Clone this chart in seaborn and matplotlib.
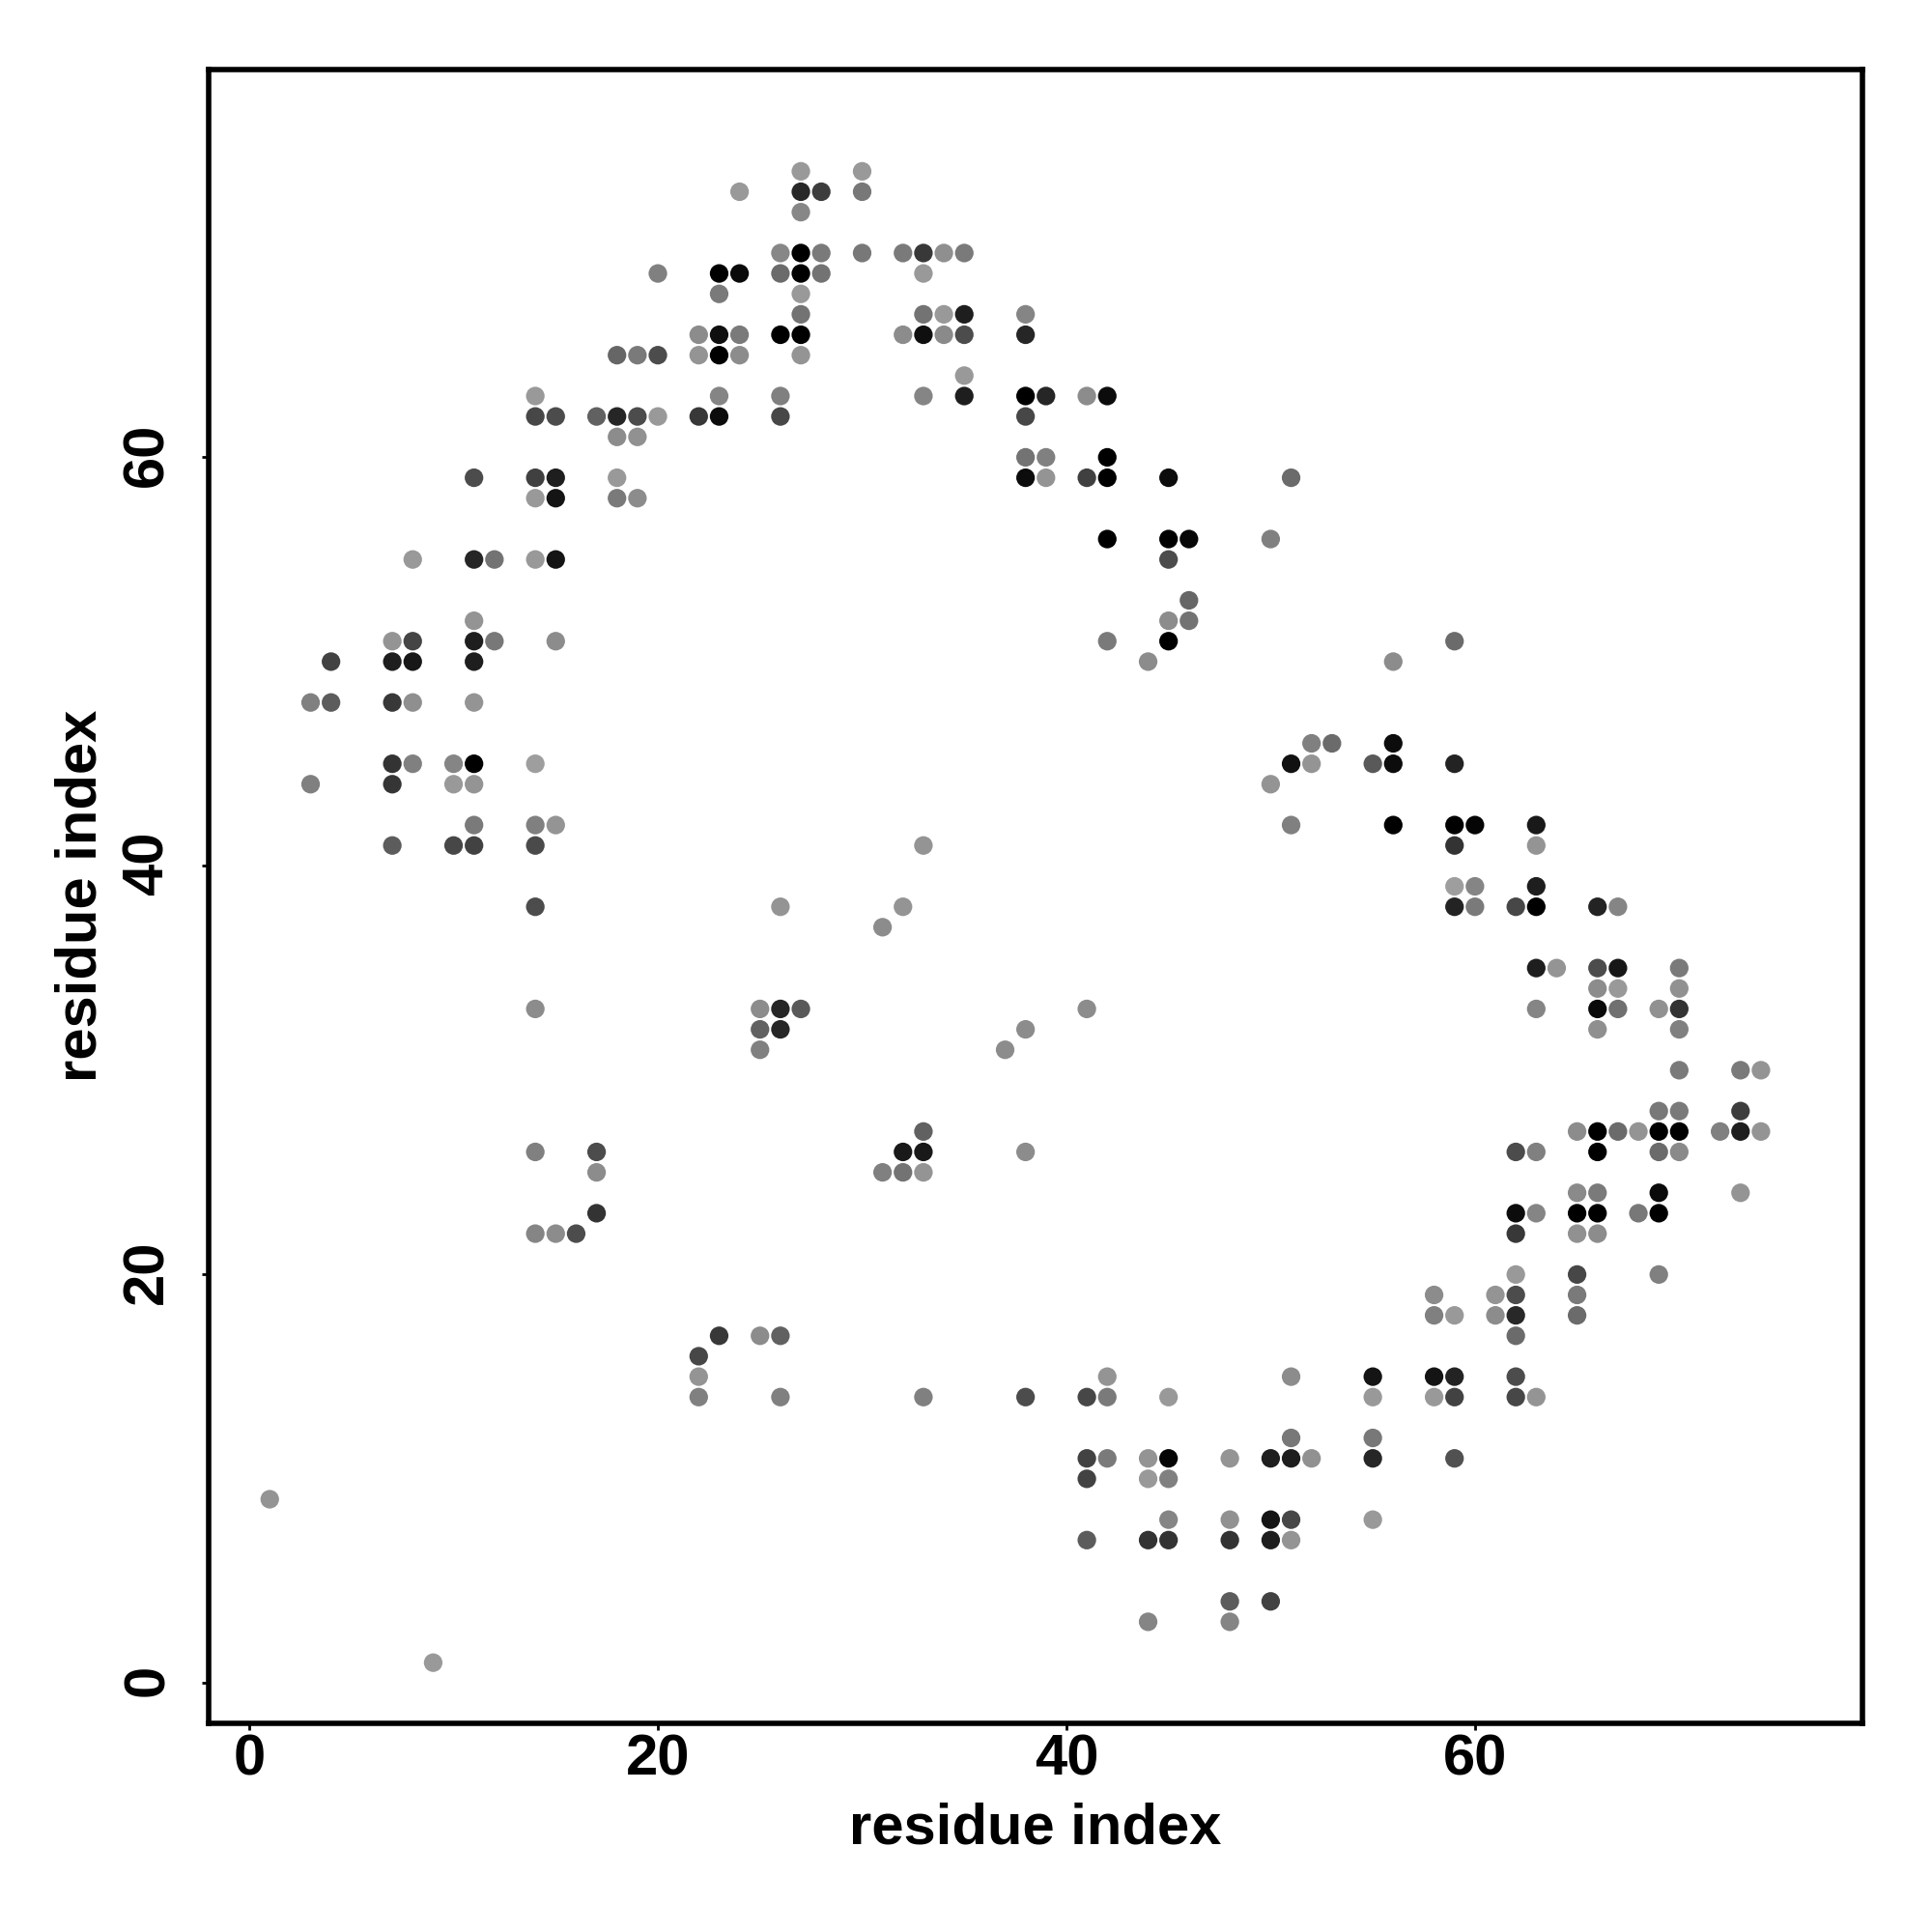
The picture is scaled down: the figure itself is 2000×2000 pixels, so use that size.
import pandas as pd
import seaborn as sns
import matplotlib.pyplot as plt
from matplotlib.transforms import ScaledTranslation

# contact map, one source line per row of the picture
residue_x = [
    27, 30,
    24, 27, 28, 30,
    27,
    26, 27, 28, 30, 32, 33, 34, 35,
    20, 23, 24, 26, 27, 28, 33,
    23, 27,
    27, 33, 34, 35, 38,
    22, 23, 24, 26, 27, 32, 33, 34, 35, 38,
    18, 19, 20, 22, 23, 24, 27,
    35,
    14, 23, 26, 33, 35, 38, 39, 41, 42,
    14, 15, 17, 18, 19, 20, 22, 23, 26, 38,
    18, 19,
    38, 39, 42,
    11, 14, 15, 18, 38, 39, 41, 42, 45, 51,
    14, 15, 18, 19,
    42, 45, 46, 50,
    8, 11, 12, 14, 15, 45,
    46,
    11, 45, 46,
    7, 8, 11, 12, 15, 42, 45, 59,
    4, 7, 8, 11, 44, 56,
    3, 4, 7, 8, 11,
    52, 53, 56,
    7, 8, 10, 11, 14, 51, 52, 55, 56, 59,
    3, 7, 10, 11, 50,
    11, 14, 15, 51, 56, 59, 60, 63,
    7, 10, 11, 14, 33, 59, 63,
    59, 60, 63,
    14, 26, 32, 59, 60, 62, 63, 66, 67,
    31,
    63, 64, 66, 67, 70,
    66, 67, 70,
    14, 25, 26, 27, 41, 63, 66, 67, 69, 70,
    25, 26, 38, 66, 70,
    25, 37,
    70, 73, 74,
    69, 70, 73,
    33, 65, 66, 67, 68, 69, 70, 72, 73, 74,
    14, 17, 32, 33, 38, 62, 63, 66, 69, 70,
    17, 31, 32, 33,
    65, 66, 69, 73,
    17, 62, 63, 65, 66, 68, 69,
    14, 15, 16, 62, 65, 66,
    62, 65, 69,
    58, 61, 62, 65,
    58, 59, 61, 62, 65,
    23, 25, 26, 62,
    22,
    22, 42, 51, 55, 58, 59, 62,
    22, 26, 33, 38, 41, 42, 45, 55, 58, 59, 62, 63,
    51, 55,
    41, 42, 44, 45, 48, 50, 51, 52, 55, 59,
    41, 44, 45,
    1,
    45, 48, 50, 51, 55,
    41, 44, 45, 48, 50, 51,
    48, 50,
    44, 48,
    9,
]

residue_y = [
    74, 74,
    73, 73, 73, 73,
    72,
    70, 70, 70, 70, 70, 70, 70, 70,
    69, 69, 69, 69, 69, 69, 69,
    68, 68,
    67, 67, 67, 67, 67,
    66, 66, 66, 66, 66, 66, 66, 66, 66, 66,
    65, 65, 65, 65, 65, 65, 65,
    64,
    63, 63, 63, 63, 63, 63, 63, 63, 63,
    62, 62, 62, 62, 62, 62, 62, 62, 62, 62,
    61, 61,
    60, 60, 60,
    59, 59, 59, 59, 59, 59, 59, 59, 59, 59,
    58, 58, 58, 58,
    56, 56, 56, 56,
    55, 55, 55, 55, 55, 55,
    53,
    52, 52, 52,
    51, 51, 51, 51, 51, 51, 51, 51,
    50, 50, 50, 50, 50, 50,
    48, 48, 48, 48, 48,
    46, 46, 46,
    45, 45, 45, 45, 45, 45, 45, 45, 45, 45,
    44, 44, 44, 44, 44,
    42, 42, 42, 42, 42, 42, 42, 42,
    41, 41, 41, 41, 41, 41, 41,
    39, 39, 39,
    38, 38, 38, 38, 38, 38, 38, 38, 38,
    37,
    35, 35, 35, 35, 35,
    34, 34, 34,
    33, 33, 33, 33, 33, 33, 33, 33, 33, 33,
    32, 32, 32, 32, 32,
    31, 31,
    30, 30, 30,
    28, 28, 28,
    27, 27, 27, 27, 27, 27, 27, 27, 27, 27,
    26, 26, 26, 26, 26, 26, 26, 26, 26, 26,
    25, 25, 25, 25,
    24, 24, 24, 24,
    23, 23, 23, 23, 23, 23, 23,
    22, 22, 22, 22, 22, 22,
    20, 20, 20,
    19, 19, 19, 19,
    18, 18, 18, 18, 18,
    17, 17, 17, 17,
    16,
    15, 15, 15, 15, 15, 15, 15,
    14, 14, 14, 14, 14, 14, 14, 14, 14, 14, 14, 14,
    12, 12,
    11, 11, 11, 11, 11, 11, 11, 11, 11, 11,
    10, 10, 10,
    9,
    8, 8, 8, 8, 8,
    7, 7, 7, 7, 7, 7,
    4, 4,
    3, 3,
    1,
]

# grey level of each dot, 0 is black
shade = [
    .60, .60,
    .60, .16, .24, .47,
    .53,
    .53, 0, .48, .47, .48, .22, .56, .48,
    .50, 0, .04, .42, 0, .45, .60,
    .48, .60,
    .45, .45, .60, .12, .52,
    .55, .06, .48, 0, 0, .55, .06, .54, .30, .15,
    .40, .48, .30, .58, 0, .55, .58,
    .60,
    .60, .52, .50, .52, .12, 0, .15, .55, .05,
    .28, .30, .38, .15, .30, .60, .22, .05, .28, .28,
    .55, .57,
    .45, .50, 0,
    .30, .25, .12, .60, .05, .58, .25, 0, .05, .42,
    .60, .08, .48, .55,
    0, 0, .03, .50,
    .60, .15, .45, .60, .08, .30,
    .40,
    .58, .55, .45,
    .58, .27, .12, .47, .55, .48, 0, .42,
    .26, .12, .09, .12, .55, .55,
    .50, .36, .22, .56, .58,
    .50, .42, .05,
    .20, .50, .52, 0, .62, .07, .58, .35, .05, .14,
    .50, .21, .60, .58, .58,
    .48, .50, .58, .50, 0, 0, .02, .10,
    .36, .28, .26, .29, .58, .20, .58,
    .62, .52, .12,
    .30, .58, .58, .14, .48, .28, 0, .14, .52,
    .55,
    .12, .58, .30, .09, .48,
    .55, .60, .57,
    .55, .55, .15, .35, .55, .52, .04, .44, .57, .20,
    .38, .15, .55, .56, .50,
    .50, .55,
    .48, .48, .58,
    .47, .48, .24,
    .38, .55, 0, .42, .58, 0, 0, .50, .12, .58,
    .50, .30, .10, .10, .55, .30, .50, 0, .42, .54,
    .55, .50, .45, .58,
    .54, .48, .04, .58,
    .20, .05, .52, 0, 0, .47, 0,
    .52, .55, .30, .22, .57, .55,
    .60, .28, .50,
    .55, .58, .30, .48,
    .50, .60, .55, .16, .42,
    .22, .55, .38, .42,
    .28,
    .58, .58, .55, .08, .08, .14, .30,
    .50, .50, .50, .30, .28, .48, .60, .60, .60, .26, .28, .58,
    .47, .47,
    .26, .48, .58, .02, .58, .12, .12, .57, .15, .32,
    .26, .60, .50,
    .58,
    .52, .57, .08, .28, .60,
    .36, .20, .20, .20, .12, .58,
    .36, .26,
    .52, .52,
    .60,
]

df = pd.DataFrame({'x': residue_x, 'y': residue_y, 'shade': shade})

sns.set_theme(style='white')
plt.rcParams['font.family'] = ['Liberation Sans', 'DejaVu Sans']
plt.rcParams['font.weight'] = 'bold'

fig = plt.figure(figsize=(10, 10), dpi=200)
ax = fig.add_axes([0.1079, 0.108, 0.856, 0.8562])

sns.scatterplot(
    data=df,
    x='x',
    y='y',
    hue='shade',
    palette='gray',
    hue_norm=(0, 1),
    s=48,
    linewidth=0,
    legend=False,
    ax=ax
)

ax.set_xlim(-2.0, 78.96)
ax.set_ylim(-1.97, 79.0)
ax.set_xticks([0, 20, 40, 60])
ax.set_yticks([0, 20, 40, 60])

for side in ax.spines.values():
    side.set_linewidth(2.0)
    side.set_color('black')

ax.tick_params(axis='both', which='major', bottom=True, left=True, length=2.4, width=1,
               color='black', labelsize=21.5, labelcolor='black')
ax.tick_params(axis='x', pad=1.5)
ax.tick_params(axis='y', pad=10.2)
plt.setp(ax.get_yticklabels(), rotation=90, va='center')

# rotated labels sit a little low otherwise
nudge = ScaledTranslation(0, 2.5 / 200, fig.dpi_scale_trans)
for label in ax.get_yticklabels():
    label.set_transform(label.get_transform() + nudge)

ax.set_xlabel('residue index', fontsize=21.5, fontweight='bold', color='black', labelpad=5.7)
ax.set_ylabel('residue index', fontsize=21.5, fontweight='bold', color='black', labelpad=5.3)

plt.savefig('out.png', dpi=200)
